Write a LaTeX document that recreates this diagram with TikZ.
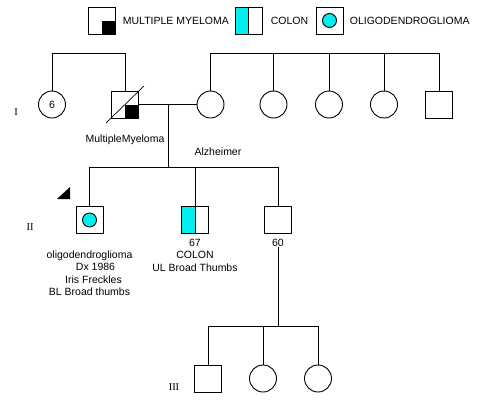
\documentclass[tikz,border=0pt]{standalone}
\usepackage{fontspec}
\setmainfont{Liberation Sans}
\newfontfamily\genfont{Liberation Serif}
\usetikzlibrary{positioning}
\definecolor{tumour}{RGB}{0,238,238}

\begin{document}
\begin{tikzpicture}[x=1pt,y=-1pt,line width=0.9pt,
    font=\fontsize{10.5}{12.5}\selectfont,
    male/.style={draw,rectangle,minimum size=27pt,inner sep=0pt},
    female/.style={draw,circle,minimum size=27pt,inner sep=0pt},
    myeloma/.style={path picture={\fill (path picture bounding box.center) rectangle (path picture bounding box.south east);}},
    colon/.style={path picture={\fill[tumour] (path picture bounding box.south west) rectangle (path picture bounding box.north);
        \draw (path picture bounding box.south) -- (path picture bounding box.north);}},
    oligo/.style={path picture={\draw[fill=tumour] (path picture bounding box.center) circle (7pt);}},
    lbl/.style={inner sep=0pt,align=center},
    gen/.style={font=\genfont\fontsize{10.5}{12.5}\selectfont}]
                        \useasboundingbox (0,0) rectangle (480,402);
                        \node[male,myeloma] (lgmm) at (101.5,20.5) {};
                        \node[lbl,right=7pt of lgmm] (lgmmtxt) {MULTIPLE MYELOMA};
                        \node[male,colon] (lgco) at (248.5,20.5) {};
                        \node[lbl,right=8pt of lgco] (lgcotxt) {COLON};
                        \node[male,oligo] (lgol) at (329.5,20.5) {};
                        \node[lbl,right=6pt of lgol] (lgoltxt) {OLIGODENDROGLIOMA};
                        \coordinate (top1) at (0,53);
                        \node[female] (f1) at (52,104.5) {6};
                        \node[male,myeloma] (m1) at (125,104.5) {};
                        \draw[line width=0.7pt] (m1.center) +(-19,18.5) -- +(19,-18.5);
                        \node[female] (w1) at (210.5,104.5) {};
                        \node[female] (s2) at (273.5,104.5) {};
                        \node[female] (s3) at (329,104.5) {};
                        \node[female] (s4) at (384,104.5) {};
                        \node[male] (s5) at (439,104.5) {};
                        \draw (f1.north) |- (m1.north |- top1) -- (m1.north);
                        \draw (w1.north) |- (s5.north |- top1) -- (s5.north);
                        \foreach \s in {s2,s3,s4}
                            \draw (\s.north) -- (\s.north |- top1);
                        \draw (m1.east) -- (w1.west);
                        \coordinate (cpl) at (168,104.5);
                        \coordinate (top2) at (168,167);
                        \draw (cpl) -- (top2);
                        \node[lbl] (mmtxt) at (125,140) {MultipleMyeloma};
                        \node[lbl] (alz) at (218,152) {Alzheimer};
                        \node[male,oligo] (p1) at (89.5,220) {};
                        \node[male,colon] (p2) at (195,220) {};
                        \node[male] (p3) at (278,220) {};
                        \draw (p1.north) |- (p3.north |- top2) -- (p3.north);
                        \draw (p2.north) -- (p2.north |- top2);
                        \fill (70,187) -- (70,199) -- (57,199) -- cycle;
                        \node[lbl,below=16pt of p1] (p1txt) {oligodendroglioma\\\hspace*{12pt}Dx 1986\\\hspace*{8pt}Iris Freckles\\BL Broad thumbs};
                        \node[lbl,below=4.5pt of p2] (p2txt) {67\\COLON\\UL Broad Thumbs};
                        \node[lbl,below=4.5pt of p3] (p3txt) {60};
                        \coordinate (top3) at (278,326);
                        \draw (p3txt.south) -- (top3);
                        \node[male] (q1) at (208,378.5) {};
                        \node[female] (q2) at (263,378.5) {};
                        \node[female] (q3) at (318,378.5) {};
                        \draw (q1.north) |- (q3.north |- top3) -- (q3.north);
                        \draw (q2.north) -- (q2.north |- top3);
                        \node[gen] (gI) at (16,112) {I};
                        \node[gen] (gII) at (30,227) {II};
                        \node[gen] (gIII) at (174,387) {III};
                    \end{tikzpicture}
\end{document}
